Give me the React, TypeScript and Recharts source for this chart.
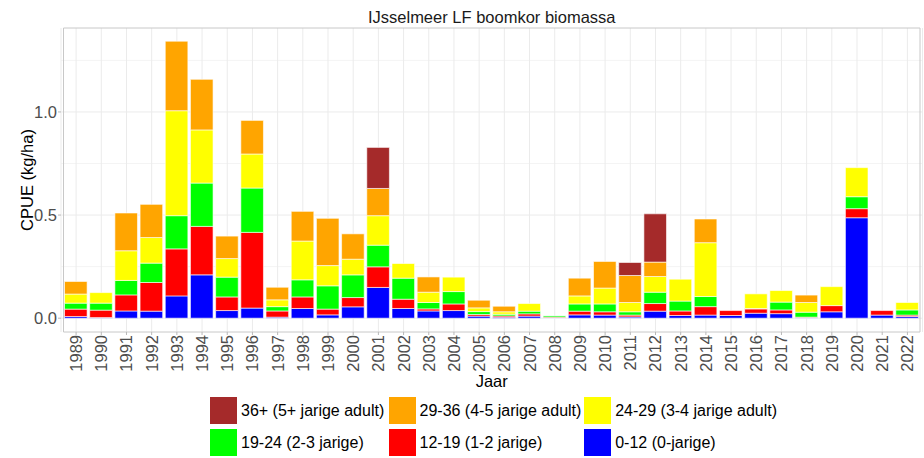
import React from "react";
import {
  BarChart,
  Bar,
  XAxis,
  YAxis,
  CartesianGrid,
  ReferenceArea,
} from "recharts";

// ---- data ----
const years = [
  "1989", "1990", "1991", "1992", "1993", "1994", "1995", "1996", "1997", "1998",
  "1999", "2000", "2001", "2002", "2003", "2004", "2005", "2006", "2007", "2008",
  "2009", "2010", "2011", "2012", "2013", "2014", "2015", "2016", "2017", "2018",
  "2019", "2020", "2021", "2022",
];

const len0_12 = [
  0.008, 0.003, 0.035, 0.034, 0.108, 0.21, 0.037, 0.049, 0.005, 0.047,
  0.016, 0.055, 0.149, 0.047, 0.035, 0.037, 0.01, 0.005, 0.01, 0.001,
  0.016, 0.015, 0.006, 0.034, 0.013, 0.015, 0.013, 0.024, 0.022, 0.002,
  0.031, 0.487, 0.015, 0.008,
];
const len12_19 = [
  0.036, 0.036, 0.078, 0.139, 0.228, 0.235, 0.066, 0.367, 0.03, 0.056,
  0.028, 0.045, 0.1, 0.045, 0.01, 0.032, 0.008, 0.006, 0.011, 0.004,
  0.018, 0.016, 0.009, 0.037, 0.022, 0.041, 0.024, 0.021, 0.018, 0.003,
  0.03, 0.044, 0.022, 0.007,
];
const len19_24 = [
  0.029, 0.034, 0.07, 0.094, 0.161, 0.21, 0.096, 0.215, 0.021, 0.083,
  0.113, 0.11, 0.105, 0.102, 0.031, 0.06, 0.014, 0.008, 0.013, 0.006,
  0.035, 0.038, 0.016, 0.055, 0.048, 0.049, 0, 0.002, 0.038, 0.024,
  0, 0.058, 0, 0.025,
];
const len24_29 = [
  0.044, 0.051, 0.144, 0.124, 0.509, 0.258, 0.09, 0.165, 0.033, 0.188,
  0.098, 0.076, 0.143, 0.071, 0.05, 0.07, 0.018, 0.012, 0.037, 0,
  0.039, 0.077, 0.045, 0.076, 0.106, 0.261, 0, 0.071, 0.056, 0.047,
  0.092, 0.141, 0, 0.036,
];
const len29_36 = [
  0.061, 0, 0.183, 0.161, 0.337, 0.245, 0.109, 0.163, 0.061, 0.144,
  0.229, 0.123, 0.132, 0, 0.074, 0, 0.037, 0.027, 0, 0,
  0.086, 0.129, 0.131, 0.07, 0, 0.115, 0, 0, 0, 0.036,
  0, 0, 0, 0,
];
const len36plus = [
  0, 0, 0, 0, 0, 0, 0, 0, 0, 0,
  0, 0, 0.199, 0, 0, 0, 0, 0, 0, 0,
  0, 0, 0.063, 0.234, 0, 0, 0, 0, 0, 0,
  0, 0, 0, 0,
];

const yTicks = [0, 0.5, 1.0];
const yMinor = [0.25, 0.75, 1.25];
const Y_MIN = -0.067;
const Y_MAX = 1.407;

const title = "IJsselmeer LF boomkor biomassa";
const yTitle = "CPUE (kg/ha)";
const xTitle = "Jaar";

// stacking order bottom -> top
const series = [
  { key: "s0", label: "0-12 (0-jarige)", color: "#0000FF", values: len0_12 },
  { key: "s1", label: "12-19 (1-2 jarige)", color: "#FF0000", values: len12_19 },
  { key: "s2", label: "19-24 (2-3 jarige)", color: "#00FF00", values: len19_24 },
  { key: "s3", label: "24-29 (3-4 jarige adult)", color: "#FFFF00", values: len24_29 },
  { key: "s4", label: "29-36 (4-5 jarige adult)", color: "#FFA500", values: len29_36 },
  { key: "s5", label: "36+ (5+ jarige adult)", color: "#A52A2A", values: len36plus },
];
const legendOrder = ["s5", "s4", "s3", "s2", "s1", "s0"];

const data = years.map((y, i) => {
  const row: any = { year: y };
  series.forEach((s) => (row[s.key] = s.values[i]));
  return row;
});

const FONT = "'Liberation Sans', Arial, Helvetica, sans-serif";

const XTick = (props: any) => {
  const { x, y, payload } = props;
  return (
    <text
      x={x}
      y={y}
      transform={`rotate(-90 ${x} ${y})`}
      textAnchor="end"
      dominantBaseline="central"
      fill="#4D4D4D"
      fontSize={16.5}
      fontFamily={FONT}
    >
      {payload.value}
    </text>
  );
};

const YTitle = (props: any) => {
  const vb = props.viewBox || {};
  const cx = 27;
  const cy = vb.y + vb.height / 2;
  return (
    <text
      x={cx}
      y={cy}
      transform={`rotate(-90 ${cx} ${cy})`}
      textAnchor="middle"
      dominantBaseline="central"
      fill="#000"
      fontSize={16.5}
      fontFamily={FONT}
    >
      {yTitle}
    </text>
  );
};

const XTitle = (props: any) => {
  const vb = props.viewBox || {};
  const cx = vb.x + vb.width / 2;
  const cy = vb.y + 49;
  return (
    <text
      x={cx}
      y={cy}
      textAnchor="middle"
      dominantBaseline="central"
      fill="#000"
      fontSize={16.5}
      fontFamily={FONT}
    >
      {xTitle}
    </text>
  );
};

export default function App() {
  const W = 924;
  const H = 458;
  return (
    <div
      style={{
        position: "absolute",
        left: 0,
        top: 0,
        width: W,
        height: H,
        background: "#fff",
        fontFamily: FONT,
      }}
    >
      <div
        style={{
          position: "absolute",
          left: 61,
          top: 7,
          width: 861.5,
          textAlign: "center",
          fontSize: 16.5,
          lineHeight: "20px",
          color: "#1a1a1a",
        }}
      >
        {title}
      </div>
      <BarChart
        width={W}
        height={H}
        data={data}
        margin={{ top: 28, right: 1.5, left: 0, bottom: 70 }}
        barSize={22.6}
      >
        <CartesianGrid
          stroke="#F4F4F4"
          strokeWidth={1}
          vertical={false}
          horizontalValues={yMinor}
        />
        <CartesianGrid
          stroke="#EBEBEB"
          strokeWidth={1}
          vertical={true}
          horizontalValues={yTicks}
        />
        <XAxis
          dataKey="year"
          type="category"
          padding={{ left: 2.5, right: 2.5 }}
          height={56}
          tickSize={3}
          tickMargin={0}
          tickLine={{ stroke: "#B8B8B8" }}
          axisLine={false}
          interval={0}
          tick={<XTick />}
          label={<XTitle />}
        />
        <YAxis
          type="number"
          domain={[Y_MIN, Y_MAX]}
          ticks={yTicks}
          width={61}
          tickSize={3}
          tickMargin={1}
          tickLine={{ stroke: "#B8B8B8" }}
          axisLine={false}
          tickFormatter={(v: number) => v.toFixed(1)}
          tick={{ fill: "#4D4D4D", fontSize: 16.5, fontFamily: FONT }}
          label={<YTitle />}
        />
        {series.map((s) => (
          <Bar
            key={s.key}
            dataKey={s.key}
            stackId="a"
            fill={s.color}
            stroke="#FFFFFF"
            strokeWidth={0.6}
            isAnimationActive={false}
          />
        ))}
        <ReferenceArea
          y1={Y_MIN}
          y2={Y_MAX}
          fill="none"
          fillOpacity={0}
          stroke="#C8C8C8"
          strokeWidth={1}
          ifOverflow="visible"
        />
      </BarChart>
      <div
        style={{
          position: "absolute",
          left: 209,
          top: 396,
          display: "grid",
          gridTemplateColumns: "178.5px 195.7px auto",
          rowGap: 3,
        }}
      >
        {legendOrder.map((k) => {
          const s = series.find((x) => x.key === k)!;
          return (
            <div
              key={k}
              style={{ display: "flex", alignItems: "center", height: 29 }}
            >
              <div
                style={{
                  width: 29,
                  height: 29,
                  background: s.color,
                  boxSizing: "border-box",
                  border: "1px solid #fff",
                }}
              />
              <span
                style={{
                  marginLeft: 3,
                  fontSize: 16,
                  color: "#000",
                  whiteSpace: "nowrap",
                }}
              >
                {s.label}
              </span>
            </div>
          );
        })}
      </div>
    </div>
  );
}
